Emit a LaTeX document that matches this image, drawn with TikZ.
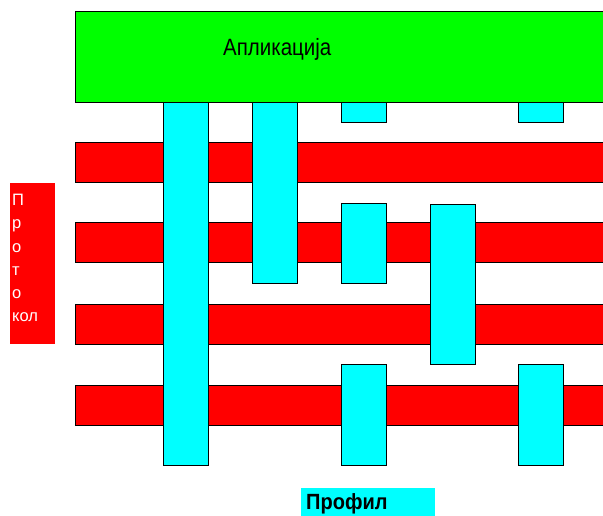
\documentclass[tikz,border=0pt]{standalone}
\usepackage{fontspec}
\setmainfont{Liberation Sans}
\definecolor{appgreen}{RGB}{0,255,0}
\definecolor{protred}{RGB}{255,0,0}
\definecolor{profcyan}{RGB}{0,255,255}
\begin{document}
\begin{tikzpicture}[x=1pt,y=1pt]
    \tikzset{
        layer/.style={draw=black, line width=0.8pt},
        label/.style={inner sep=0pt, text=black}
    }
    \useasboundingbox (0,0) rectangle (603,-516);
    \begin{scope}
        \clip (0,0) rectangle (603,-516);
        % application
        \draw[layer, fill=appgreen] (75,-11) rectangle (615,-102);
        % protocol layers
        \foreach \y in {142,222,304,385}{
            \draw[layer, fill=protred] (75,-\y) rectangle (615,{-\y-40});
        }
        % profiles
        \foreach \x/\ya/\yb in {
            163/102/465,
            252/102/283,
            341/102/122,
            518/102/122,
            341/203/283,
            430/204/364,
            341/364/465,
            518/364/465
        }{
            \draw[layer, fill=profcyan] (\x,-\ya) rectangle ({\x+45},-\yb);
        }
        % side and bottom labels
        \fill[protred] (10,-183) rectangle (55,-344);
        \fill[profcyan] (301,-488) rectangle (435,-520);
    \end{scope}
    \node[label, anchor=base west] (app) at (223,-56)
        {\scalebox{1}[1.15]{\fontsize{20.5}{24}\selectfont Апликација}};
    \node[label, anchor=north west, text=white, align=left,
        font=\fontsize{16.5}{23.2}\selectfont] (prot) at (12,-194.2)
        {П\\р\\о\\т\\о\\кол};
    \node[label, anchor=base west] (prof) at (306,-509)
        {\scalebox{1}[1.1]{\fontsize{20}{24}\selectfont\bfseries Профил}};
\end{tikzpicture}
\end{document}
